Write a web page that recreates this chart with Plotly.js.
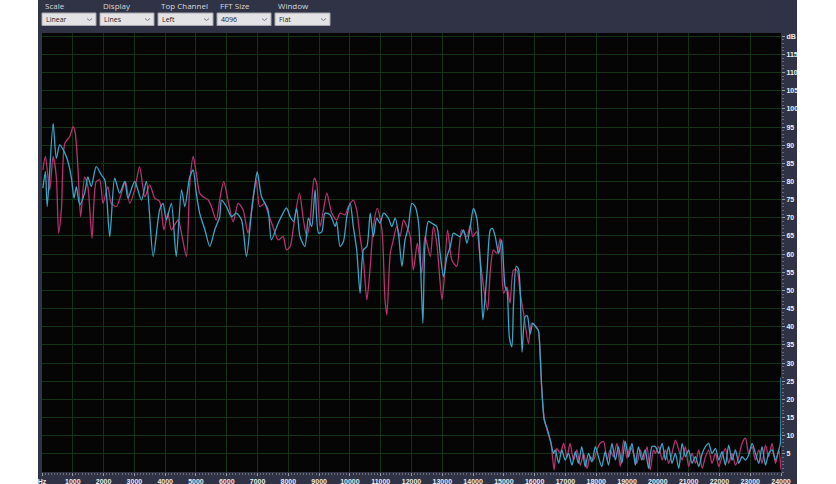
<!DOCTYPE html>
<html>
<head>
<meta charset="utf-8">
<script src="https://cdn.plot.ly/plotly-3.0.1.min.js"></script>
<style>html,body{margin:0;padding:0;background:#fff;}#chart{width:836px;height:484px;}</style>
</head>
<body>
<div id="chart"></div>
<script>
// ---- data ----
const toolbarLabels = ["Scale", "Display", "Top Channel", "FFT Size", "Window"];
const toolbarValues = ["Linear", "Lines", "Left", "4096", "Flat"];

const xTickVals = [0,1000,2000,3000,4000,5000,6000,7000,8000,9000,10000,11000,12000,13000,14000,15000,16000,17000,18000,19000,20000,21000,22000,23000,24000];
const xTickText = ["Hz","1000","2000","3000","4000","5000","6000","7000","8000","9000","10000","11000","12000","13000","14000","15000","16000","17000","18000","19000","20000","21000","22000","23000","24000"];
const yTickVals = [5,10,15,20,25,30,35,40,45,50,55,60,65,70,75,80,85,90,95,100,105,110,115,120];
const yTickText = ["5","10","15","20","25","30","35","40","45","50","55","60","65","70","75","80","85","90","95","100","105","110","115","dB"];

// Right channel (magenta)
const magentaHz = [30,110,250,360,465,540,630,740,900,1010,1080,1170,1255,1385,1490,1625,1760,1875,1980,2140,2250,2415,2580,2710,2850,3010,3170,3340,3500,3660,3820,3960,4090,4200,4420,4530,4690,4800,4910,5010,5120,5230,5400,5500,5660,5770,5900,6040,6210,6370,6530,6690,6860,6960,7070,7230,7340,7500,7670,7830,7940,8060,8170,8360,8490,8600,8710,8840,8920,9030,9140,9250,9410,9570,9680,9840,9950,10110,10220,10330,10440,10550,10660,10760,10890,11040,11140,11200,11310,11410,11520,11630,11740,11850,11960,12060,12190,12330,12440,12610,12710,12820,12990,13060,13170,13310,13470,13630,13800,13910,13990,14120,14230,14340,14470,14560,14660,14770,14880,14990,15100,15200,15310,15420,15530,15640,15800,15900,16050,16120,16180,16230,16310,16420,16530,16630,
16720,16830,16940,17050,17150,17260,17370,17480,17590,17700,17800,17910,18020,18130,18240,18350,18450,18560,18670,18780,18890,19000,19100,19210,19320,19430,19540,19650,19750,19860,19920,20030,20140,20245,20350,20460,20570,20680,20790,20895,21000,21110,21220,21330,21440,21545,21650,21760,21870,21980,22085,22195,22300,22410,22520,22630,22735,22845,22950,23060,23170,23280,23385,23495,23600,23710,23820,23930,24000];
const magentaDb = [83.2,86.9,77.7,86.9,81.3,65.8,72.2,90.5,92.4,95.1,93.3,83.2,70.3,81.3,78.6,64.4,80,80.4,74,78.6,74,73.1,76.8,80,74,77.7,84.1,75.8,79.1,75.4,74.5,66.7,71.3,66.7,69.4,65.8,59.3,79.5,86.9,82.3,76.8,75.8,74.9,73.1,69.4,74.9,80,74.9,68.9,74,72.2,65.8,75.8,80.4,73.1,74,71.3,67.6,63.9,64.8,61.2,62.1,67.6,76.8,69.4,64.8,69.4,80.9,79.5,67.6,72.2,76.8,71.3,69.4,71.3,70.8,73.1,74.9,72.2,64.8,58.4,47.4,56.6,67.6,72.6,66.7,47.4,43.3,60.2,63.9,67.6,64.8,69.4,67.6,64.8,55.6,63,54.7,64.8,59.3,67.6,63,47.4,52.9,66.7,58.4,56.6,66.7,64.8,68,64.8,66.2,58.4,51,44.6,55.6,61.2,60.2,64.4,49.2,51,46.5,55.6,55.6,49.2,43.7,35.4,41,40,39,32,23,15,11,8,0.6,
6.5,5.1,7.9,4.2,7.9,3.3,6.1,1.9,5.1,1.0,4.2,3.3,6.1,7.9,8.4,3.3,6.1,4.2,7.9,1.5,8.8,3.8,7.0,5.1,2.4,6.1,3.3,7.0,0.6,6.1,5.1,7.0,3.3,6.1,2.4,5.1,8.8,6.1,3.3,7.0,1.5,5.1,2.4,6.1,1.0,4.2,6.1,2.4,5.1,1.5,4.2,6.5,2.4,5.1,1.9,4.2,7.9,9.3,5.1,7.0,3.3,6.1,2.4,7.4,4.2,7.9,2.4,6.1,0.6];

// Left channel (cyan)
const cyanHz = [30,110,170,360,465,575,790,950,1040,1115,1225,1385,1490,1600,1760,1930,2040,2200,2360,2520,2690,2790,3010,3230,3390,3610,3820,3930,4040,4200,4360,4530,4640,4800,4910,5010,5120,5290,5450,5610,5770,5830,5990,6150,6310,6480,6640,6800,6910,6990,7130,7340,7450,7670,7940,8060,8170,8270,8380,8540,8650,8760,8870,8980,9090,9190,9360,9520,9570,9680,9790,9900,10010,10110,10220,10330,10440,10550,10660,10760,10870,10980,11090,11250,11360,11470,11580,11690,11790,11900,12010,12120,12230,12300,12370,12440,12550,12660,12820,12930,13040,13150,13260,13360,13470,13580,13690,13800,13910,14010,14120,14230,14320,14450,14560,14630,14720,14830,14930,15040,15100,15180,15260,15310,15400,15470,15530,15590,15690,15760,15850,15940,16030,16120,16180,16230,16310,16420,16530,16610,
16670,16780,16880,16990,17100,17210,17320,17420,17530,17640,17750,17860,17970,18070,18180,18290,18400,18510,18620,18720,18830,18940,19050,19160,19270,19370,19480,19590,19700,19810,19920,20030,20140,20245,20350,20460,20570,20680,20790,20895,21000,21110,21220,21330,21440,21545,21650,21760,21870,21980,22085,22195,22300,22410,22520,22630,22735,22845,22950,23060,23170,23280,23385,23495,23600,23710,23820,23930,23980,24000];
const cyanDb = [78.2,82.7,73.1,96,86.4,90.1,86.9,81.3,75.4,78.6,73.6,76.8,81.3,78.6,84.1,81.8,80.4,64.8,80.9,76.8,80,75.4,80,74.9,80,59.3,72.2,74,69.4,74,59.3,77.7,73.1,81.3,83.2,76.8,71.3,66.7,62.1,66.7,70.3,74.9,73.1,70.3,71.3,69.4,59.3,71.3,78.6,82.7,75.8,72.2,63.9,68.5,72.7,70.3,69,72.6,64.8,62.1,69.9,67.6,77.7,65.8,66.2,71.3,70.8,67.6,69,62.1,63.5,70.3,74,67.6,61.2,49.2,61.2,62.1,71.3,64.8,69.9,68.5,71.3,69.9,67.6,69.9,65.3,56.6,63.9,67.6,74,73.1,68.5,55.6,41,63,69,68.5,67.6,60.2,53.8,59.3,62.1,65.8,65.3,64.8,66.7,63,67.6,72.6,69.9,58.4,41.9,54.7,66.7,67.1,64.8,60.2,63.9,51,50,37,34.5,45.5,56.6,56,50,33,42.8,43,38,41,40,39,32,23,14.3,11.6,7.9,5.1,
6.1,2.4,6.1,3.3,5.1,1.9,5.6,2.4,7.0,1.5,5.1,2.8,7.0,4.2,1.5,5.6,1.9,7.9,3.3,7.0,2.4,8.4,4.2,7.9,1.9,7.0,3.3,6.1,1.0,7.0,7.0,5.1,7.9,3.3,7.0,2.4,5.1,1.0,7.9,4.2,6.1,2.4,4.2,1.5,5.1,7.0,7.9,5.1,6.5,3.3,5.6,1.9,7.4,3.3,6.1,2.4,4.2,3.3,4.7,7.9,5.1,2.4,7.0,1.9,5.1,6.1,3.3,6.1,8,26];

// ---- layout helpers (pixel -> paper) ----
const PL = 42, PR = 781, PT = 33, PB = 472;
const px = p => (p - PL) / (PR - PL);
const py = p => (PB - p) / (PB - PT);

const boxes = [[42,96],[100,154],[158,213],[217,271],[275,330]];
const shapes = [
  {type:'rect', xref:'paper', yref:'paper', x0:px(-5), x1:px(38), y0:py(490), y1:py(-5), fillcolor:'#ffffff', line:{width:0}, layer:'below'},
  {type:'rect', xref:'paper', yref:'paper', x0:px(797), x1:px(842), y0:py(490), y1:py(-5), fillcolor:'#ffffff', line:{width:0}, layer:'below'}
];
const annotations = [];
toolbarLabels.forEach((lab, i) => {
  const [a, b] = boxes[i];
  shapes.push({type:'rect', xref:'paper', yref:'paper', x0:px(a), x1:px(b), y0:py(25.5), y1:py(13), fillcolor:'#e3e3e6', line:{color:'#a8a8ae', width:1}, layer:'above'});
  shapes.push({type:'path', xref:'paper', yref:'paper',
    path:`M ${px(b-9)} ${py(18.5)} L ${px(b-6.5)} ${py(20.5)} L ${px(b-4)} ${py(18.5)}`,
    line:{color:'#7a7a80', width:1}, layer:'above'});
  annotations.push({xref:'paper', yref:'paper', x:px(a+1), y:py(6), xanchor:'left', yanchor:'middle', showarrow:false,
    text:lab, font:{family:'Open Sans, Noto Sans, sans-serif', size:8, color:'#d6d8de'}});
  annotations.push({xref:'paper', yref:'paper', x:px(a+2), y:py(19.5), xanchor:'left', yanchor:'middle', showarrow:false,
    text:toolbarValues[i], font:{family:'Open Sans, Noto Sans, sans-serif', size:7, color:'#1a1a1a'}});
});

const traces = [
  {x: magentaHz, y: magentaDb, type:'scatter', mode:'lines', name:'Right',
   line:{color:'#b8326f', width:1.3, shape:'spline', smoothing:0.7}, hoverinfo:'skip'},
  {x: cyanHz, y: cyanDb, type:'scatter', mode:'lines', name:'Left',
   line:{color:'#3ea4c6', width:1.3, shape:'spline', smoothing:0.7}, hoverinfo:'skip'}
];

const tickFont = {family:'Liberation Sans, Arial, sans-serif', size:7, color:'#eeeeee', weight:'bold'};
const layout = {
  width: 836, height: 484,
  margin: {l: PL, r: 836 - PR, t: PT, b: 484 - PB, pad: 0},
  paper_bgcolor: '#2f3345',
  plot_bgcolor: '#050505',
  showlegend: false,
  xaxis: {
    range: [0, 24000], tickmode:'array', tickvals: xTickVals, ticktext: xTickText,
    showgrid: true, gridcolor: '#123316', gridwidth: 1, zeroline: false,
    ticks: 'outside', ticklen: 3, tickcolor: '#9a9aa0', tickfont: tickFont,
    minor: {dtick: 100, ticklen: 2, tickcolor: '#6d6d75', showgrid: false, ticks:'outside'},
    showline: false, fixedrange: true
  },
  yaxis: {
    range: [0, 120.9], side: 'right', tickmode:'array', tickvals: yTickVals, ticktext: yTickText,
    showgrid: true, gridcolor: '#123316', gridwidth: 1, zeroline: false,
    ticks: 'outside', ticklen: 3, tickcolor: '#9a9aa0', tickfont: tickFont,
    minor: {dtick: 1, ticklen: 2, tickcolor: '#6d6d75', showgrid: false, ticks:'outside'},
    showline: false, fixedrange: true
  },
  shapes: shapes,
  annotations: annotations
};

Plotly.newPlot('chart', traces, layout, {displayModeBar: false, staticPlot: true});
</script>
</body>
</html>
